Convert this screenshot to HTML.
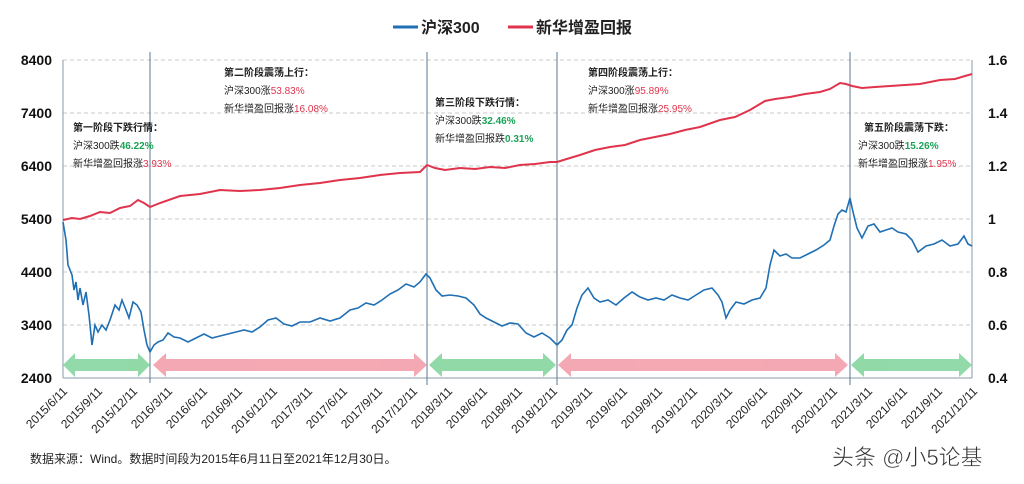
<!DOCTYPE html>
<html><head><meta charset="utf-8"><style>
body{margin:0;background:#fff;width:1024px;height:479px;overflow:hidden;font-family:"Liberation Sans","Noto Sans CJK SC",sans-serif}
</style></head><body>
<svg width="1024" height="479" xmlns="http://www.w3.org/2000/svg" font-family="Liberation Sans, Noto Sans CJK SC, sans-serif">
<line x1="393" y1="27" x2="418" y2="27" stroke="#1f6fb4" stroke-width="3"/>
<text x="421" y="33" font-size="16" font-weight="bold" fill="#222">沪深300</text>
<line x1="508" y1="27" x2="533" y2="27" stroke="#e0344c" stroke-width="3"/>
<text x="536" y="33" font-size="16" font-weight="bold" fill="#222">新华增盈回报</text>
<g stroke="#c8c8c8" stroke-dasharray="4,3" stroke-width="1">
<line x1="63" y1="60" x2="972" y2="60"/><line x1="63" y1="113" x2="972" y2="113"/><line x1="63" y1="166" x2="972" y2="166"/><line x1="63" y1="219" x2="972" y2="219"/><line x1="63" y1="272" x2="972" y2="272"/><line x1="63" y1="325" x2="972" y2="325"/>
</g>
<line x1="63" y1="60" x2="63" y2="378" stroke="#8a9aac"/>
<line x1="972" y1="60" x2="972" y2="378" stroke="#8a9aac"/>
<line x1="63" y1="378" x2="972" y2="378" stroke="#8a9aac"/>
<g stroke="#5b7895" stroke-width="1">
<line x1="150" y1="52" x2="150" y2="383"/><line x1="427" y1="52" x2="427" y2="385"/><line x1="557" y1="52" x2="557" y2="385"/><line x1="850" y1="52" x2="850" y2="385"/>
</g>
<g font-size="14" font-weight="bold" fill="#111">
<text x="52" y="65" text-anchor="end">8400</text><text x="52" y="118" text-anchor="end">7400</text><text x="52" y="171" text-anchor="end">6400</text><text x="52" y="224" text-anchor="end">5400</text><text x="52" y="277" text-anchor="end">4400</text><text x="52" y="330" text-anchor="end">3400</text><text x="52" y="383" text-anchor="end">2400</text>
<text x="988" y="65">1.6</text><text x="988" y="118">1.4</text><text x="988" y="171">1.2</text><text x="988" y="224">1</text><text x="988" y="277">0.8</text><text x="988" y="330">0.6</text><text x="988" y="383">0.4</text>
</g>
<g opacity="0.85">
<polygon points="63,365 75,353 75,359 138,359 138,353 150,365 138,377 138,371 75,371 75,377" fill="#7fd39a"/>
<polygon points="153,365 166,353 166,359 414,359 414,353 427,365 414,377 414,371 166,371 166,377" fill="#f29aa6"/>
<polygon points="429,365 442,353 442,359 543,359 543,353 556,365 543,377 543,371 442,371 442,377" fill="#7fd39a"/>
<polygon points="558,365 571,353 571,359 835,359 835,353 848,365 835,377 835,371 571,371 571,377" fill="#f29aa6"/>
<polygon points="851,365 864,353 864,359 959,359 959,353 972,365 959,377 959,371 864,371 864,377" fill="#7fd39a"/>
</g>
<polyline fill="none" stroke="#e0344c" stroke-width="2" points="63,220 72,218 80,219 90,216 100,212 110,213 120,208 130,206 138,200 144,203 150,207 160,203 180,196 200,194 220,190 240,191 260,190 280,188 300,185 320,183 340,180 360,178 380,175 400,173 420,172 427,165 435,168 445,170 460,168 475,169 490,167 505,168 520,165 535,164 550,162 557,162 570,158 580,155 595,150 610,147 625,145 640,140 655,137 670,134 685,130 700,127 720,120 735,117 750,110 765,101 775,99 790,97 805,94 820,92 830,89 840,83 846,84 852,86 862,88 875,87 890,86 905,85 920,84 940,80 955,79 965,76 972,74"/>
<polyline fill="none" stroke="#1f6fb4" stroke-width="1.6" points="63,222 66,240 68,265 72,275 74,290 76,282 78,300 80,288 83,305 86,292 89,315 92,345 95,325 98,332 102,325 106,330 110,320 115,305 119,310 122,300 126,310 129,318 133,302 137,305 141,312 144,330 147,345 150,352 154,345 158,342 163,340 168,333 174,337 180,338 188,342 196,338 204,334 212,338 220,336 228,334 236,332 244,330 252,332 260,327 268,320 276,318 284,324 292,326 300,322 310,322 320,318 330,321 340,318 350,310 358,308 366,303 374,305 382,300 390,294 398,290 406,284 414,287 420,282 426,274 430,278 436,290 442,296 450,295 458,296 466,298 474,305 480,314 486,318 494,322 502,326 510,323 518,324 526,333 534,337 542,333 550,338 557,345 562,340 567,330 572,325 577,308 582,295 588,288 594,298 600,302 608,300 616,305 624,298 632,292 640,297 648,300 656,298 664,300 672,295 680,298 688,300 696,295 704,290 712,288 718,295 722,302 726,318 730,310 736,302 744,304 752,300 760,298 766,288 770,265 774,250 780,256 786,254 792,258 800,258 808,254 816,250 824,245 830,240 834,226 838,214 842,210 846,212 850,198 853,212 857,228 862,238 868,226 874,224 880,232 886,230 892,228 898,232 906,234 912,240 918,252 926,246 934,244 942,240 950,246 958,244 964,236 968,244 972,246"/>
<g font-size="12" fill="#222">
<text transform="translate(68,392) rotate(-45)" text-anchor="end">2015/6/11</text>
<text transform="translate(103,392) rotate(-45)" text-anchor="end">2015/9/11</text>
<text transform="translate(138,392) rotate(-45)" text-anchor="end">2015/12/11</text>
<text transform="translate(173,392) rotate(-45)" text-anchor="end">2016/3/11</text>
<text transform="translate(208,392) rotate(-45)" text-anchor="end">2016/6/11</text>
<text transform="translate(243,392) rotate(-45)" text-anchor="end">2016/9/11</text>
<text transform="translate(278,392) rotate(-45)" text-anchor="end">2016/12/11</text>
<text transform="translate(313,392) rotate(-45)" text-anchor="end">2017/3/11</text>
<text transform="translate(348,392) rotate(-45)" text-anchor="end">2017/6/11</text>
<text transform="translate(383,392) rotate(-45)" text-anchor="end">2017/9/11</text>
<text transform="translate(418,392) rotate(-45)" text-anchor="end">2017/12/11</text>
<text transform="translate(453,392) rotate(-45)" text-anchor="end">2018/3/11</text>
<text transform="translate(488,392) rotate(-45)" text-anchor="end">2018/6/11</text>
<text transform="translate(523,392) rotate(-45)" text-anchor="end">2018/9/11</text>
<text transform="translate(558,392) rotate(-45)" text-anchor="end">2018/12/11</text>
<text transform="translate(593,392) rotate(-45)" text-anchor="end">2019/3/11</text>
<text transform="translate(628,392) rotate(-45)" text-anchor="end">2019/6/11</text>
<text transform="translate(663,392) rotate(-45)" text-anchor="end">2019/9/11</text>
<text transform="translate(698,392) rotate(-45)" text-anchor="end">2019/12/11</text>
<text transform="translate(733,392) rotate(-45)" text-anchor="end">2020/3/11</text>
<text transform="translate(768,392) rotate(-45)" text-anchor="end">2020/6/11</text>
<text transform="translate(803,392) rotate(-45)" text-anchor="end">2020/9/11</text>
<text transform="translate(838,392) rotate(-45)" text-anchor="end">2020/12/11</text>
<text transform="translate(873,392) rotate(-45)" text-anchor="end">2021/3/11</text>
<text transform="translate(908,392) rotate(-45)" text-anchor="end">2021/6/11</text>
<text transform="translate(943,392) rotate(-45)" text-anchor="end">2021/9/11</text>
<text transform="translate(978,392) rotate(-45)" text-anchor="end">2021/12/11</text>
</g>
<text x="30" y="463" font-size="12" fill="#222">数据来源：Wind。数据时间段为2015年6月11日至2021年12月30日。</text>
<text x="832" y="465" font-size="22" fill="#333" stroke="#fff" stroke-width="0.5">头条 @小5论基</text>
<g font-size="10" fill="#222">
<text x="73" y="131" font-weight="bold">第一阶段下跌行情：</text>
<text x="73" y="149">沪深300跌<tspan fill="#1aa356" font-weight="bold">46.22%</tspan></text>
<text x="73" y="167">新华增盈回报涨<tspan fill="#e0344c">3.93%</tspan></text>
<text x="224" y="76" font-weight="bold">第二阶段震荡上行：</text>
<text x="224" y="94">沪深300涨<tspan fill="#e0344c">53.83%</tspan></text>
<text x="224" y="112">新华增盈回报涨<tspan fill="#e0344c">16.08%</tspan></text>
<text x="435" y="106" font-weight="bold">第三阶段下跌行情：</text>
<text x="435" y="124">沪深300跌<tspan fill="#1aa356" font-weight="bold">32.46%</tspan></text>
<text x="435" y="142">新华增盈回报跌<tspan fill="#1aa356" font-weight="bold">0.31%</tspan></text>
<text x="588" y="76" font-weight="bold">第四阶段震荡上行：</text>
<text x="588" y="94">沪深300涨<tspan fill="#e0344c">95.89%</tspan></text>
<text x="588" y="112">新华增盈回报涨<tspan fill="#e0344c">25.95%</tspan></text>
<text x="864" y="131" font-weight="bold">第五阶段震荡下跌：</text>
<text x="858" y="149">沪深300跌<tspan fill="#1aa356" font-weight="bold">15.26%</tspan></text>
<text x="858" y="167">新华增盈回报涨<tspan fill="#e0344c">1.95%</tspan></text>
</g>
</svg>
</body></html>
